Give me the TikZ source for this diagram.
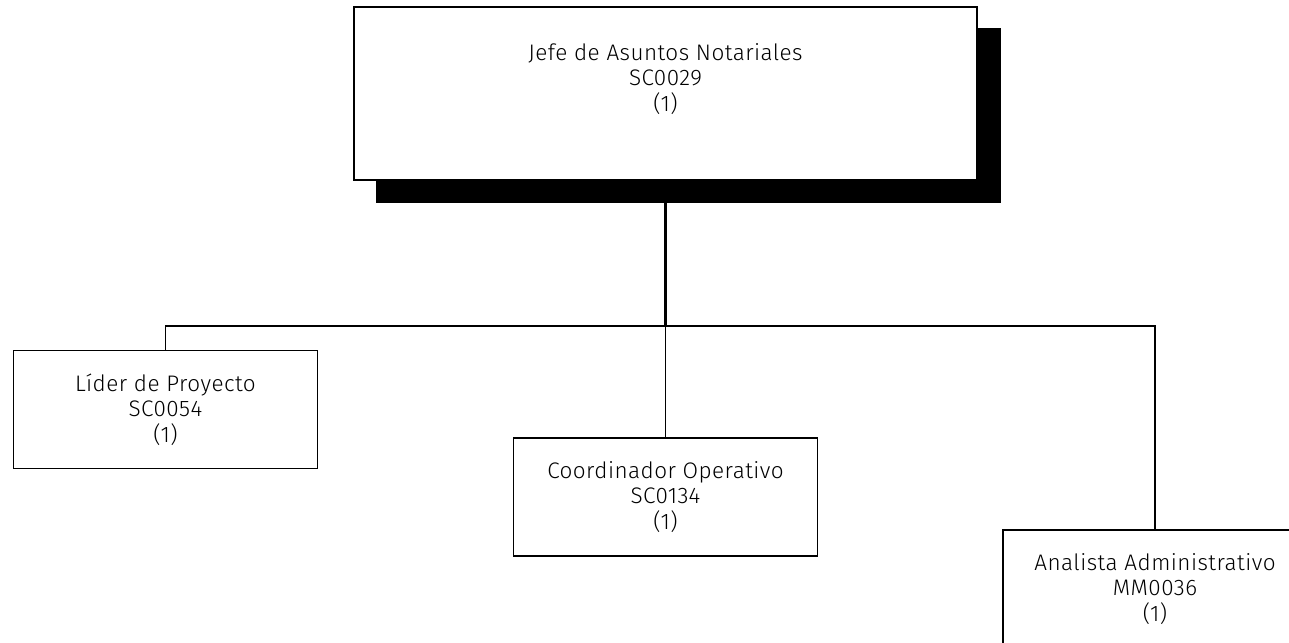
\documentclass[tikz,border=0pt]{standalone}
\usepackage{fontspec}
\setmainfont{Fira Sans Light}[LetterSpace=2]
\usetikzlibrary{calc}
\begin{document}
\begin{tikzpicture}[x=1pt,y=-1pt,
  line width=1.8pt,
  boxtext/.style={font=\fontsize{22.5}{25.5}\selectfont, align=center},
  post/.style={boxtext, draw=black, fill=white, rectangle,
    minimum width=304pt, minimum height=118pt, inner sep=0pt},
  wire/.style={draw=black, line width=1.7pt}]
  \useasboundingbox (0,0) rectangle (1289,642);
  \clip (0,0) rectangle (1289,642);

  % organisational boxes
  \node[post] (lider) at (165.5,409.5) {Líder de Proyecto\\SC0054\\(1)};
  \node[post] (coord) at (665.5,497) {Coordinador Operativo\\SC0134\\(1)};
  \node[post] (anal)  at (1155,589) {Analista Administrativo\\MM0036\\(1)};

  % bus line
  \coordinate (bus) at (665.5,326);
  \coordinate (head) at (665.5,180);
  \draw[wire, line width=2.2pt] (head) -- (bus);
  \draw[wire] (bus) -| (lider.north);
  \draw[wire] (bus) -- (coord.north);
  \draw[wire] (bus) -| (anal.north);

  % head box with drop shadow
  \node[post, minimum width=623pt, minimum height=173pt] (top) at (665.5,93.5) {};
  \fill[black] ($(top.south west)+(23,22)$) rectangle ($(top.north east)+(23,22)$);
  \node[post, minimum width=623pt, minimum height=173pt] (topbox) at (665.5,93.5) {};
  \node[boxtext, inner sep=0pt] (toptext) at (665.5,79)
    {Jefe de Asuntos Notariales\\SC0029\\(1)};
\end{tikzpicture}
\end{document}
